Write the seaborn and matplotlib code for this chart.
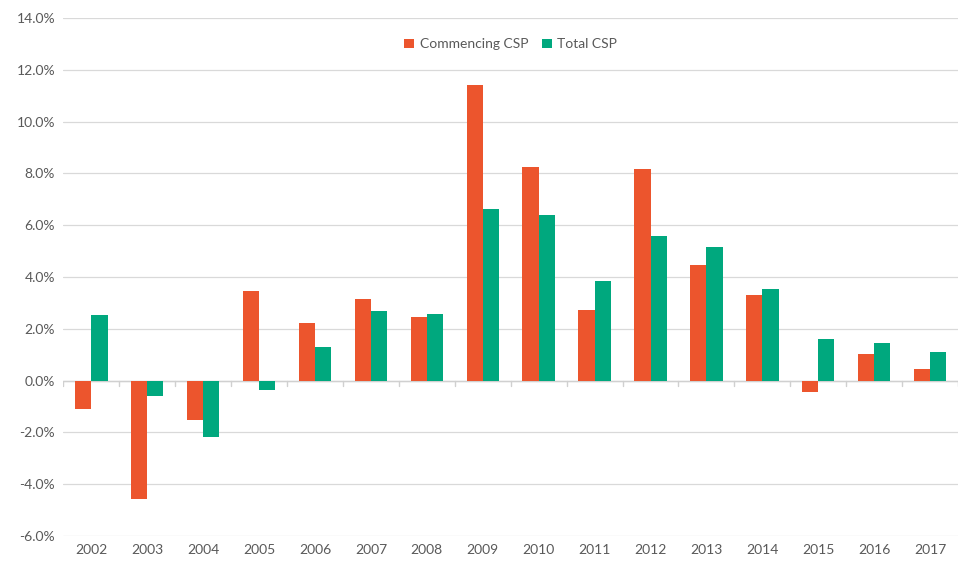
import numpy as np
import pandas as pd
import matplotlib
matplotlib.use("Agg")
import matplotlib.pyplot as plt
import seaborn as sns
from matplotlib.ticker import FuncFormatter

years = ["2002", "2003", "2004", "2005", "2006", "2007", "2008", "2009",
         "2010", "2011", "2012", "2013", "2014", "2015", "2016", "2017"]
commencing = [-1.08, -4.57, -1.54, 3.46, 2.24, 3.15, 2.45, 11.42,
              8.24, 2.74, 8.17, 4.48, 3.31, -0.43, 1.04, 0.43]
total = [2.55, -0.58, -2.16, -0.35, 1.31, 2.70, 2.57, 6.63,
         6.40, 3.84, 5.57, 5.17, 3.54, 1.61, 1.47, 1.12]
series_names = ["Commencing CSP", "Total CSP"]
colors = ["#EC552D", "#00A87E"]

df = pd.DataFrame({"Year": years * 2,
                   "Growth": commencing + total,
                   "Series": [series_names[0]] * len(years) + [series_names[1]] * len(years)})

sns.set_style("white")
plt.rcParams["font.family"] = ["Lato", "DejaVu Sans"]

fig = plt.figure(figsize=(9.6, 5.63), dpi=100)
ax = fig.add_axes([0.066, 0.048, 0.932, 0.92])

sns.barplot(data=df, x="Year", y="Growth", hue="Series", palette=colors,
            width=0.58, gap=0, saturation=1, linewidth=0, ax=ax, zorder=3)

ax.set_ylim(-6, 14)
ax.set_yticks(np.arange(-6, 15, 2))
ax.yaxis.set_major_formatter(FuncFormatter(lambda v, _: f"{v:.1f}%"))
ax.set_xlim(-0.5, len(years) - 0.5)
ax.grid(axis="y", color="#D9D9D9", lw=0.9, zorder=0)
ax.axhline(0, color="#D0D0D0", lw=1.0, zorder=2)
# small category ticks on the zero line
for b in np.arange(-0.5, len(years), 1.0):
    ax.plot([b, b], [0, -0.22], color="#D0D0D0", lw=1.0, zorder=2)

for s in ax.spines.values():
    s.set_visible(False)
ax.tick_params(axis="both", length=0, labelsize=10, colors="#595959", pad=6)
ax.set_xlabel("")
ax.set_ylabel("")

leg = ax.legend(loc="upper center", bbox_to_anchor=(0.5, 0.985), ncol=2,
                frameon=False, fontsize=10, handlelength=0.7, handleheight=0.7,
                handletextpad=0.4, columnspacing=1.0)
for t in leg.get_texts():
    t.set_color("#595959")

fig.savefig("out.png", dpi=100)
